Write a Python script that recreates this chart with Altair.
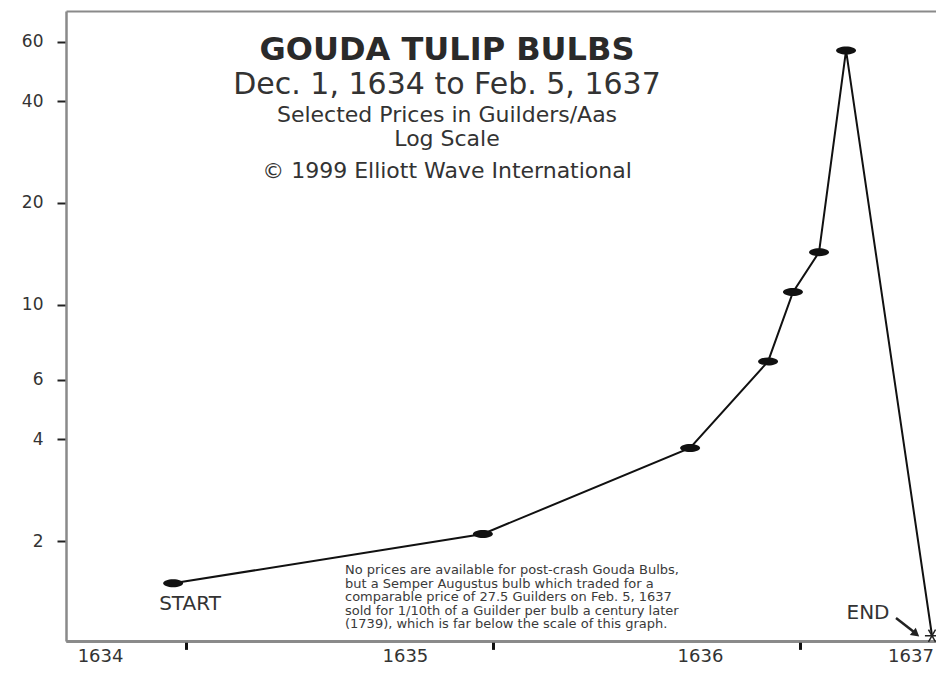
import altair as alt
import pandas as pd

# ---- data ----
dates = [1634.958, 1635.967, 1636.642, 1636.896, 1636.977, 1637.062, 1637.150]
prices = [1.5, 2.1, 3.77, 6.8, 10.9, 14.3, 56.5]
end_dates = [1637.43]
end_prices = [1.05]

year_starts = [1635.0, 1636.0, 1637.0]
year_labels = ["1634", "1635", "1636", "1637"]
year_label_pos = [1634.72, 1635.713, 1636.674, 1637.36]
y_ticks = [2, 4, 6, 10, 20, 40, 60]

title_lines = [
    "GOUDA TULIP BULBS",
    "Dec. 1, 1634 to Feb. 5, 1637",
    "Selected Prices in Guilders/Aas",
    "Log Scale",
    "\u00a9 1999 Elliott Wave International",
]
note_lines = [
    "No prices are available for post-crash Gouda Bulbs,",
    "but a Semper Augustus bulb which traded for a",
    "comparable price of 27.5 Guilders on Feb. 5, 1637",
    "sold for 1/10th of a Guilder per bulb a century later",
    "(1739), which is far below the scale of this graph.",
]

df = pd.DataFrame({
    "date": dates + end_dates,
    "price": prices + end_prices,
    "kind": ["price"] * len(dates) + ["end"] * len(end_dates),
})
one = pd.DataFrame({"a": [0]})

FONT = "DejaVu Sans"
TXT = "#333333"
W, H = 870, 630

xscale = alt.Scale(domain=[1634.609, 1637.443], nice=False, zero=False)
yscale = alt.Scale(type="log", domain=[1.013, 73.9], nice=False)

x_ticks_axis = alt.Axis(orient="bottom", values=year_starts, labels=False, ticks=True,
                        tickSize=8, tickWidth=3, tickColor="#111111",
                        domainColor="#8a8a8a", domainWidth=2.5, grid=False, title=None)
y_axis = alt.Axis(orient="left", values=y_ticks, format="d", tickSize=9, tickWidth=2,
                  tickColor="#222222", domainColor="#8a8a8a", domainWidth=2.5,
                  labelFont=FONT, labelFontSize=17, labelColor=TXT, labelPadding=14,
                  grid=False, title=None)

label_expr = "{}[indexof({}, datum.value)]".format(
    "[" + ",".join("'%s'" % s for s in year_labels) + "]",
    "[" + ",".join(str(v) for v in year_label_pos) + "]",
)
x_label_axis = alt.Axis(orient="bottom", values=year_label_pos, labelExpr=label_expr,
                        ticks=False, tickSize=0, domain=False, labelPadding=6,
                        labelFont=FONT, labelFontSize=18, labelColor=TXT,
                        grid=False, title=None)
x_top_axis = alt.Axis(orient="top", labels=False, ticks=False, tickSize=0, domain=True,
                      domainColor="#8a8a8a", domainWidth=2, grid=False, title=None)

base = alt.Chart(df)
xe = alt.X("date:Q", scale=xscale, axis=x_ticks_axis)
ye = alt.Y("price:Q", scale=yscale, axis=y_axis)

line = base.mark_line(color="#111111", strokeWidth=2).encode(x=xe, y=ye)

ellipse = "M-1,0 A1,0.4 0 1,1 1,0 A1,0.4 0 1,1 -1,0 Z"
pts = base.transform_filter(alt.datum.kind == "price").mark_point(
    shape=ellipse, size=400, filled=True, color="#111111", opacity=1
).encode(x=xe, y=ye)

star = "M-1,0L1,0M-0.5,-0.87L0.5,0.87M-0.5,0.87L0.5,-0.87"
endpt = base.transform_filter(alt.datum.kind == "end").mark_point(
    shape=star, size=200, filled=False, color="#222222", strokeWidth=1.5, opacity=1
).encode(x=xe, y=ye)

lab_layer = base.mark_point(opacity=0).encode(
    x=alt.X("date:Q", scale=xscale, axis=x_label_axis))
top_layer = base.mark_point(opacity=0).encode(
    x=alt.X("date:Q", scale=xscale, axis=x_top_axis))


def txt(s, x, y, size, weight="normal", align="center", baseline="middle",
        color=TXT, **kw):
    return alt.Chart(one).mark_text(
        text=s, font=FONT, fontSize=size, fontWeight=weight, color=color,
        align=align, baseline=baseline, **kw
    ).encode(x=alt.value(x), y=alt.value(y))


cx = 381
titles = [
    txt(title_lines[0], cx, 39, 32, weight="bold", color="#2a2a2a"),
    txt(title_lines[1], cx, 74, 30),
    txt(title_lines[2], cx, 104, 22),
    txt(title_lines[3], cx, 128, 22),
    txt(title_lines[4], cx, 160, 22),
]

start_txt = txt("START", 124, 593, 20)
end_txt = txt("END", 802, 602, 20)
note = txt(note_lines, 279, 553, 13, align="left", baseline="top", lineHeight=13.5,
           color="#3a3a3a")

arrow_line = alt.Chart(one).mark_rule(color="#222222", strokeWidth=2.5).encode(
    x=alt.value(830), y=alt.value(607), x2=alt.value(848), y2=alt.value(621))
arrow_head = alt.Chart(one).mark_point(shape="triangle-up", size=90, filled=True,
                                       color="#222222", opacity=1, angle=129).encode(
    x=alt.value(850), y=alt.value(623))

chart = alt.layer(
    line, pts, endpt, lab_layer, top_layer,
    *titles, start_txt, end_txt, note, arrow_line, arrow_head
).resolve_axis(x="independent").properties(
    width=W, height=H,
    autosize=alt.AutoSizeParams(type="none"),
    padding={"left": 58, "top": 3, "right": 0, "bottom": 24},
    background="white",
).configure_view(strokeWidth=0)

chart.save("out.html", embed_options={"renderer": "svg", "actions": False})
